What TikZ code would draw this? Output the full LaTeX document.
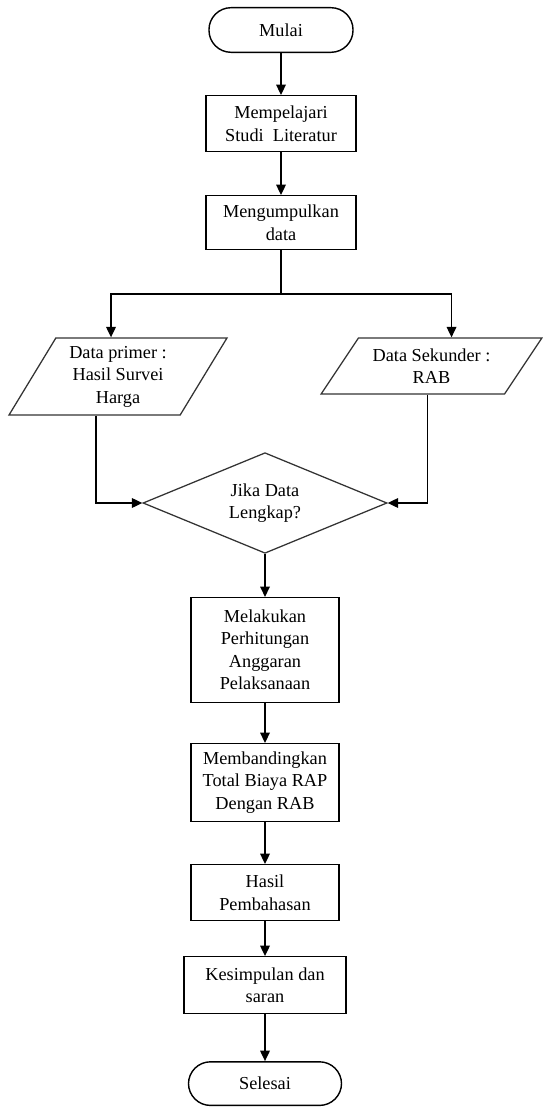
\documentclass[tikz,border=0pt]{standalone}
\usepackage{fontspec}
\setmainfont{Liberation Serif}
\usetikzlibrary{positioning, arrows.meta, shapes.geometric}
\tikzset{
    every node/.style={font=\fontsize{13}{16}\selectfont},
    terminal/.style={draw, line width=1pt, rounded corners=0.55cm, minimum height=1.115cm, align=center},
    process/.style={draw, line width=1pt, minimum width=3.7cm, align=center, inner sep=2pt},
    datain/.style={draw=black!80, line width=0.9pt, trapezium, trapezium stretches=true, align=center, inner sep=1pt},
    decision/.style={draw=black!80, line width=0.9pt, diamond, aspect=2.4, align=center, inner sep=0pt},
    arrow/.style={-{Triangle[length=2.6mm, width=2.4mm]}, line width=1pt},
    line/.style={line width=1pt},
}

\begin{document}
\begin{tikzpicture}[x=0.025cm, y=-0.025cm]
\useasboundingbox (0,0) rectangle (543,1108);
% start, literature and data collection
   \node[terminal, minimum width=3.6cm] (mulai) at (281,30) {Mulai};
   \node[process, minimum width=3.75cm, minimum height=1.39cm, below=1.05cm of mulai] (pelajari) {Mempelajari\\Studi~ Literatur};
   \node[process, minimum width=3.75cm, minimum height=1.34cm, below=1.075cm of pelajari] (kumpul) {Mengumpulkan\\data};
% the two kinds of data, left and right
   \node[datain, trapezium left angle=59.4, trapezium right angle=120.6, minimum width=5.45cm, minimum height=1.925cm] (primer) at (118,376.5) {Data primer :\\Hasil Survei\\Harga};
   \node[datain, trapezium left angle=51, trapezium right angle=129, minimum width=5.525cm, minimum height=1.4cm] (sekunder) at (431.5,366) {Data Sekunder :\\RAB};
% check, then the processing column
   \node[decision, minimum width=6.1cm, minimum height=2.515cm] (cek) at (265,503) {Jika Data\\Lengkap?};
   \node[process, minimum height=2.615cm, below=1.075cm of cek] (hitung) {Melakukan\\Perhitungan\\Anggaran\\Pelaksanaan};
   \node[process, minimum height=1.94cm, below=1cm of hitung] (banding) {Membandingkan\\Total Biaya RAP\\Dengan RAB};
   \node[process, minimum height=1.39cm, below=1.05cm of banding] (bahas) {Hasil\\Pembahasan};
   \node[process, minimum width=4.05cm, minimum height=1.415cm, below=0.875cm of bahas] (simpul) {Kesimpulan dan\\saran};
   \node[terminal, minimum width=3.825cm, minimum height=1.09cm, below=1.175cm of simpul] (selesai) {Selesai};
   \draw[arrow] (mulai) -- (pelajari);
   \draw[arrow] (pelajari) -- (kumpul);
   \draw[line] (kumpul.south) -- ++(0,44) coordinate (split);
   \draw[arrow] (split) -| ([xshift=-0.175cm]primer.north);
   \draw[arrow] (split) -| ([xshift=0.5cm]sekunder.north);
   \draw[arrow] ([xshift=-0.55cm]primer.south) |- (cek.west);
   \draw[arrow] ([xshift=-0.1cm]sekunder.south) |- (cek.east);
   \draw[arrow] (cek) -- (hitung);
   \draw[arrow] (hitung) -- (banding);
   \draw[arrow] (banding) -- (bahas);
   \draw[arrow] (bahas) -- (simpul);
   \draw[arrow] (simpul) -- (selesai);
\end{tikzpicture}
\end{document}
